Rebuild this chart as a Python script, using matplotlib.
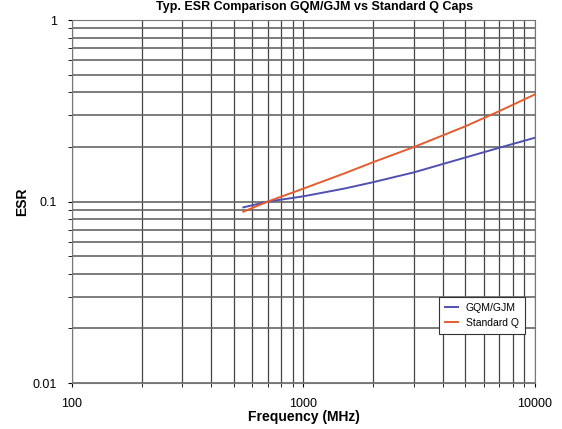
import matplotlib.pyplot as plt
from matplotlib.ticker import FixedLocator, NullFormatter

plt.rcParams['font.family'] = ['Liberation Sans', 'DejaVu Sans']

# Data
freq = [550, 700, 1000, 1500, 2000, 3000, 5000, 7000, 10000]
esr_gqm = [0.093, 0.100, 0.107, 0.118, 0.128, 0.145, 0.175, 0.198, 0.225]
esr_std = [0.088, 0.100, 0.118, 0.143, 0.165, 0.200, 0.260, 0.315, 0.390]

fig = plt.figure(figsize=(5.62, 4.29), dpi=100)
ax = fig.add_axes([0.128, 0.107, 0.824, 0.846])

ax.plot(freq, esr_gqm, color='#5050b0', lw=1.4, label='GQM/GJM')
ax.plot(freq, esr_std, color='#e45c30', lw=1.4, label='Standard Q')

ax.set_xscale('log')
ax.set_yscale('log')
ax.set_xlim(100, 10000)
ax.set_ylim(0.01, 1)

ax.xaxis.set_major_locator(FixedLocator([100, 1000, 10000]))
ax.yaxis.set_major_locator(FixedLocator([0.01, 0.1, 1]))
ax.set_xticklabels(['100', '1000', '10000'])
ax.set_yticklabels(['0.01', '0.1', '1'])
ax.xaxis.set_minor_formatter(NullFormatter())
ax.yaxis.set_minor_formatter(NullFormatter())
ax.grid(True, axis='x', which='both', color='#444444', lw=0.9)
ax.grid(True, axis='y', which='both', color='#666666', lw=1.2)
ax.tick_params(which='both', length=3, labelsize=9, pad=8)
for s in ax.spines.values():
    s.set_color('#777777')

ax.set_xlabel('Frequency (MHz)', fontsize=10, fontweight='bold', labelpad=0)
ax.set_ylabel('ESR', fontsize=10, fontweight='bold', labelpad=2)
fig.text(0.56, 0.998, 'Typ. ESR Comparison GQM/GJM vs Standard Q Caps',
         ha='center', va='top', fontsize=9, fontweight='bold')

leg = ax.legend(loc='lower right', bbox_to_anchor=(0.99, 0.12), fontsize=7.5,
                fancybox=False, edgecolor='#333333', framealpha=1,
                handlelength=1.2, borderpad=0.6)
leg.get_frame().set_linewidth(0.8)

fig.savefig('out.png', dpi=100)
